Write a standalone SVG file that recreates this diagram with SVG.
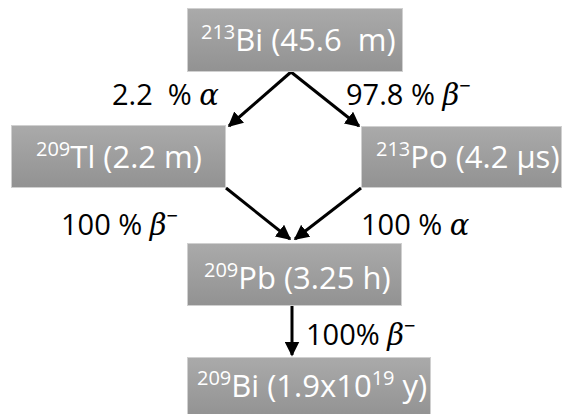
<svg xmlns="http://www.w3.org/2000/svg" width="565" height="414" viewBox="0 0 565 414" xml:space="preserve">
<style>
.box{fill:url(#g);stroke:#d0d0d0;stroke-width:1}
.t{font-family:"Open Sans","Noto Sans",sans-serif;font-size:31px;fill:#ffffff;white-space:pre}
.s{font-size:20px}
.l{font-family:"Open Sans","Noto Sans",sans-serif;font-size:29px;fill:#000;white-space:pre}
.m{font-family:"DejaVu Serif","Liberation Serif",serif;font-style:italic}
.c{stroke:#000;stroke-width:3;fill:none;marker-end:url(#a)}
</style>
<defs>
<linearGradient id="g" x1="0" y1="0" x2="0" y2="1">
<stop offset="0" stop-color="#aaaaaa"/>
<stop offset="1" stop-color="#929292"/>
</linearGradient>
<marker id="a" viewBox="0 0 10 10" refX="9" refY="5" markerWidth="5" markerHeight="5" orient="auto" markerUnits="strokeWidth">
<path d="M0,0 L10,5 L0,10 z" fill="#000"/>
</marker>
</defs>
<g id="connectors">
<line class="c" x1="291" y1="72" x2="229" y2="126"/>
<line class="c" x1="291" y1="72" x2="359" y2="126"/>
<line class="c" x1="226" y1="188" x2="290" y2="239"/>
<line class="c" x1="361" y1="188" x2="295" y2="239"/>
<line class="c" x1="292" y1="306" x2="292" y2="355"/>
</g>
<g id="bi213">
<rect class="box" x="187.5" y="8.5" width="215" height="63"/>
<text class="t" x="201" y="51"><tspan class="s" dy="-12">213</tspan><tspan dy="12">Bi (45.6  m)</tspan></text>
</g>
<g id="tl209">
<rect class="box" x="11.5" y="125.5" width="214" height="62"/>
<text class="t" x="36" y="168"><tspan class="s" dy="-12">209</tspan><tspan dy="12">Tl (2.2 m)</tspan></text>
</g>
<g id="po213">
<rect class="box" x="361.5" y="126.5" width="200" height="61"/>
<text class="t" x="376" y="168"><tspan class="s" dy="-12">213</tspan><tspan dy="12">Po (4.2 μs)</tspan></text>
</g>
<g id="pb209">
<rect class="box" x="187.5" y="243.5" width="214" height="62"/>
<text class="t" x="204" y="289"><tspan class="s" dy="-12">209</tspan><tspan dy="12">Pb (3.25 h)</tspan></text>
</g>
<g id="bi209">
<rect class="box" x="187.5" y="357.5" width="243" height="60"/>
<text class="t" x="197" y="397"><tspan class="s" dy="-12">209</tspan><tspan dy="12">Bi (1.9x10</tspan><tspan class="s" dy="-12">19</tspan><tspan dy="12"> y)</tspan></text>
</g>
<g id="labels">
<text class="l" x="112" y="105">2.2  % <tspan class="m">α</tspan></text>
<text class="l" x="346" y="105">97.8 % <tspan class="m">β</tspan><tspan font-size="20" dy="-12">−</tspan></text>
<text class="l" x="61" y="235">100 % <tspan class="m">β</tspan><tspan font-size="20" dy="-12">−</tspan></text>
<text class="l" x="361" y="235">100 % <tspan class="m">α</tspan></text>
<text class="l" x="306" y="345">100% <tspan class="m">β</tspan><tspan font-size="20" dy="-12">−</tspan></text>
</g>
</svg>
